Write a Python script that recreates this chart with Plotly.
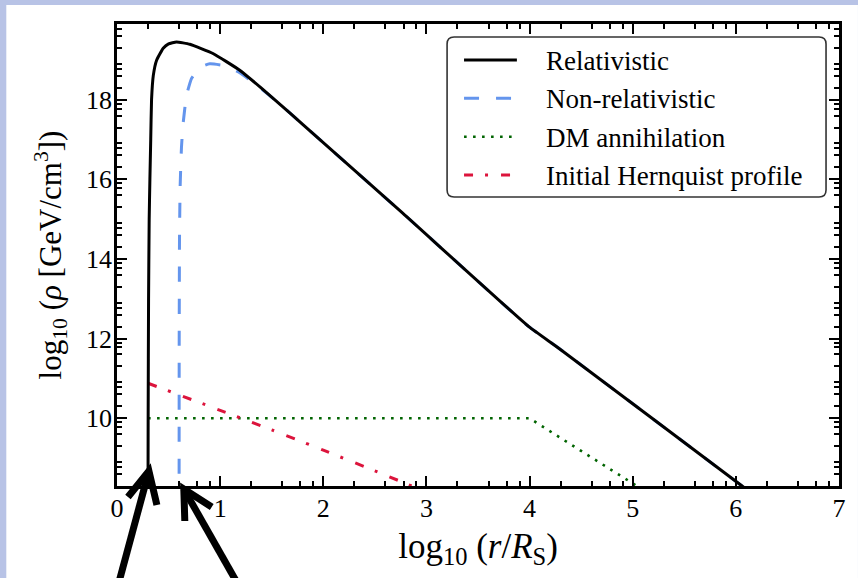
import numpy as np
import plotly.graph_objects as go

# ---------------- data ----------------
rel_x = [0.300, 0.302, 0.306, 0.312, 0.319, 0.327, 0.335, 0.352, 0.384, 0.448, 0.50,
         0.577, 0.706, 0.93, 1.19, 1.40, 1.60, 1.80, 2.77, 3.993, 4.283, 6.07, 6.2]
rel_y = [7.0, 10.0, 13.0, 15.0, 16.0, 17.0, 18.0, 18.61, 18.99, 19.29, 19.40,
         19.45, 19.39, 19.16, 18.74, 18.29, 17.84, 17.38, 15.15, 12.30, 11.76, 8.28, 8.03]

nonrel_x = [0.602, 0.603, 0.606, 0.612, 0.625, 0.641, 0.674, 0.722, 0.77, 0.85, 0.90,
            1.03, 1.19, 1.40, 1.60, 1.80, 2.77, 3.993, 4.283, 6.07, 6.2]
nonrel_y = [7.0, 12.0, 14.5, 15.8, 16.8, 17.4, 18.11, 18.53, 18.70, 18.86, 18.90,
            18.86, 18.68, 18.27, 17.84, 17.38, 15.15, 12.30, 11.76, 8.28, 8.03]

dm_x = [0.301, 4.0, 4.5, 5.2]
dm_y = [10.0, 10.0, 9.18, 8.04]

hern_x = [0.301, 1.0, 1.5, 2.0, 2.5, 3.0]
hern_y = [10.88, 10.20, 9.71, 9.20, 8.68, 8.15]

x_ticks = [0, 1, 2, 3, 4, 5, 6, 7]
y_ticks = [10, 12, 14, 16, 18]
x_range = [0, 7]
y_range = [8.3, 19.9]

names = ["Relativistic", "Non-relativistic", "DM annihilation", "Initial Hernquist profile"]
colors = ["black", "#6495ED", "#006400", "#DC143C"]
widths = [3, 3, 2.6, 3]
dashes = ["solid", "15px,17px", "2.6px,6.4px", "9px,12px,3px,13px"]
smooth = [True, True, False, True]

# minor ticks at n + log10(2,4,6,8)
x_minor = [n + np.log10(k) for n in range(0, 7) for k in (2, 4, 6, 8)]
y_minor = [n + np.log10(k) for n in range(8, 20) for k in (2, 4, 6, 8)]

# ---------------- layout geometry ----------------
W, H = 858, 578
ML, MR, MT, MB = 117, 17, 24, 92
PW, PH = W - ML - MR, H - MT - MB


def px(x):
    return (x - ML) / PW


def py(y):
    return (H - MB - y) / PH


SERIF = "Liberation Serif"

series = {
    1: (nonrel_x, nonrel_y),
    2: (dm_x, dm_y),
    3: (hern_x, hern_y),
    0: (rel_x, rel_y),
}

fig = go.Figure()
for i in (1, 2, 3, 0):  # black drawn last (on top)
    xs, ys = series[i]
    ln = dict(color=colors[i], width=widths[i], dash=dashes[i])
    if smooth[i]:
        ln.update(shape="spline", smoothing=0.4)
    fig.add_trace(go.Scatter(x=xs, y=ys, mode="lines", name=names[i], showlegend=False,
                             line=ln))

fig.update_layout(
    width=W, height=H,
    margin=dict(l=ML, r=MR, t=MT, b=MB),
    paper_bgcolor="#b8c3e6",
    plot_bgcolor="white",
    font=dict(family=SERIF, size=25, color="black"),
    showlegend=False,
)
fig.update_xaxes(
    range=x_range, tickvals=x_ticks,
    showgrid=False, zeroline=False,
    showline=True, linecolor="black", linewidth=2.5, mirror="ticks",
    ticks="inside", ticklen=10, tickwidth=1.5, tickcolor="black",
    tickfont=dict(family=SERIF, size=26, color="black"), ticklabelstandoff=-3,
    minor=dict(tickvals=x_minor, ticks="inside", ticklen=5, tickwidth=1.5, tickcolor="black"),
    title_text="log<sub>10</sub> (<i>r</i>/<i>R</i><sub>S</sub>)",
    title_font=dict(family=SERIF, size=35, color="black"), title_standoff=12,
)
fig.update_yaxes(
    range=y_range, tickvals=y_ticks,
    showgrid=False, zeroline=False,
    showline=True, linecolor="black", linewidth=2.5, mirror="ticks",
    ticks="inside", ticklen=10, tickwidth=1.5, tickcolor="black",
    tickfont=dict(family=SERIF, size=26, color="black"), ticklabelstandoff=-3,
    minor=dict(tickvals=y_minor, ticks="inside", ticklen=5, tickwidth=1.5, tickcolor="black"),
    title_text="log<sub>10</sub> (<i>ρ</i> [GeV/cm<sup>3</sup>])",
    title_font=dict(family=SERIF, size=31, color="black"), title_standoff=16,
)

shapes = []
annotations = []

# white panel over the bluish backdrop
shapes.append(dict(type="rect", xref="paper", yref="paper", layer="below",
                   x0=px(6), x1=px(860), y0=py(580), y1=py(5),
                   fillcolor="white", line=dict(width=0)))

# legend box with rounded corners
lx0, lx1, ly0, ly1, r = 448, 828, 37, 197, 7
path = (f"M {px(lx0 + r)} {py(ly0)} L {px(lx1 - r)} {py(ly0)} "
        f"Q {px(lx1)} {py(ly0)} {px(lx1)} {py(ly0 + r)} "
        f"L {px(lx1)} {py(ly1 - r)} Q {px(lx1)} {py(ly1)} {px(lx1 - r)} {py(ly1)} "
        f"L {px(lx0 + r)} {py(ly1)} Q {px(lx0)} {py(ly1)} {px(lx0)} {py(ly1 - r)} "
        f"L {px(lx0)} {py(ly0 + r)} Q {px(lx0)} {py(ly0)} {px(lx0 + r)} {py(ly0)} Z")
shapes.append(dict(type="path", xref="paper", yref="paper", layer="above", path=path,
                   fillcolor="white", line=dict(color="#333333", width=1.6)))

# legend entries
row_y = [60, 98.3, 136.7, 175]
for i, yy in enumerate(row_y):
    shapes.append(dict(type="line", xref="paper", yref="paper", layer="above",
                       x0=px(465), x1=px(518), y0=py(yy), y1=py(yy),
                       line=dict(color=colors[i], width=widths[i], dash=dashes[i])))
    annotations.append(dict(xref="paper", yref="paper", x=px(545), y=py(yy + 1),
                            xanchor="left", yanchor="middle", showarrow=False,
                            text=names[i], font=dict(family=SERIF, size=27, color="black")))


# two thick pointer arrows below the axis
def arrow(tail, tip, w1, w2):
    return [
        dict(type="path", xref="paper", yref="paper", layer="above",
             path=f"M {px(tail[0])} {py(tail[1])} L {px(tip[0])} {py(tip[1])}",
             line=dict(color="black", width=7)),
        dict(type="path", xref="paper", yref="paper", layer="above",
             path=(f"M {px(w1[0])} {py(w1[1])} L {px(tip[0])} {py(tip[1])} "
                   f"L {px(w2[0])} {py(w2[1])}"),
             line=dict(color="black", width=7)),
    ]


shapes += arrow((119, 582), (149, 471), (128, 497), (157, 505))
shapes += arrow((237, 582), (184, 489), (185, 521), (212, 507))

fig.update_layout(shapes=shapes, annotations=annotations)

fig.write_html("out.html")
